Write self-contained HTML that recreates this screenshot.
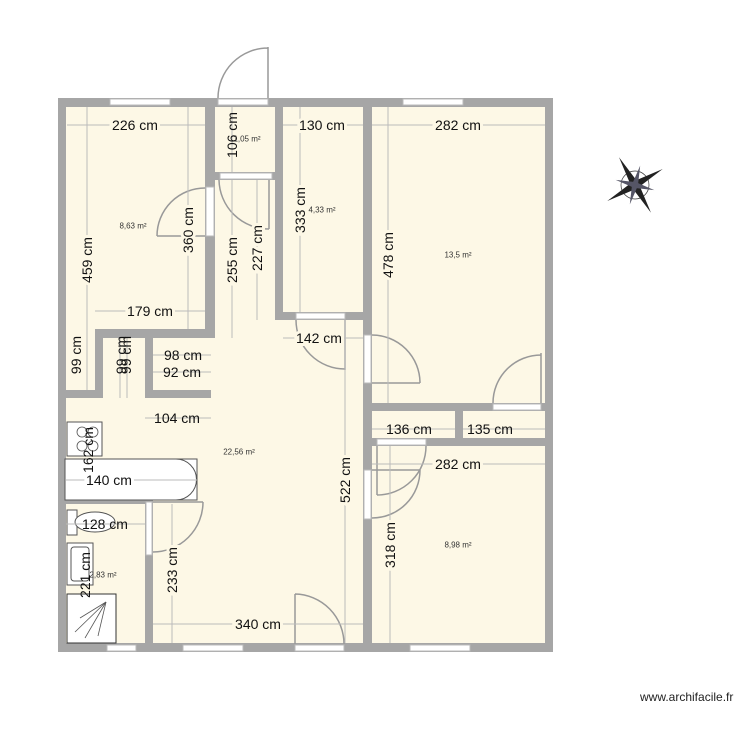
<!DOCTYPE html>
<html><head><meta charset="utf-8"><style>
html,body{margin:0;padding:0;background:#fff;}
svg{display:block;font-family:"Liberation Sans",sans-serif;}
.d{font-size:14px;fill:#111;}
.a{font-size:8px;fill:#333;}
.dl{stroke:#bbb;stroke-width:1;fill:none;}
.door{stroke:#999;stroke-width:1.5;fill:none;}
</style></head><body>
<svg width="750" height="750" viewBox="0 0 750 750">
<!-- floors -->
<rect x="58" y="98" width="495" height="554" fill="#fdf8e6"/>
<!-- walls -->
<g fill="#a6a6a6">
<rect x="58" y="98" width="495" height="9"/>
<rect x="58" y="643" width="495" height="9"/>
<rect x="58" y="98" width="8" height="554"/>
<rect x="545" y="98" width="8" height="554"/>
<rect x="205" y="98" width="10" height="240"/>
<rect x="275" y="98" width="8" height="222"/>
<rect x="205" y="172" width="78" height="8"/>
<rect x="275" y="312" width="97" height="8"/>
<rect x="363" y="98" width="9" height="554"/>
<rect x="95" y="329" width="120" height="9"/>
<rect x="95" y="329" width="8" height="69"/>
<rect x="145" y="338" width="8" height="60"/>
<rect x="58" y="390" width="45" height="8"/>
<rect x="145" y="390" width="66" height="8"/>
<rect x="363" y="403" width="190" height="8"/>
<rect x="363" y="438" width="190" height="8"/>
<rect x="455" y="403" width="8" height="43"/>
<rect x="145" y="502" width="8" height="150"/>
<rect x="58" y="498" width="95" height="6"/>
</g>
<!-- windows / openings -->
<g fill="#fff" stroke="#bbb" stroke-width="1">
<rect x="110" y="99" width="60" height="6"/>
<rect x="403" y="99" width="60" height="6"/>
<rect x="218" y="99" width="50" height="6"/>
<rect x="410" y="645" width="60" height="6"/>
<rect x="183" y="645" width="60" height="6"/>
<rect x="107" y="645" width="29" height="6"/>
<rect x="295" y="645" width="49" height="6"/>
<rect x="220" y="173" width="52" height="6"/>
<rect x="206" y="187" width="8" height="49"/>
<rect x="296" y="313" width="49" height="6"/>
<rect x="364" y="335" width="7" height="48"/>
<rect x="493" y="404" width="48" height="6"/>
<rect x="377" y="439" width="49" height="6"/>
<rect x="364" y="470" width="7" height="49"/>
<rect x="146" y="502" width="6" height="53"/>
</g>
<!-- doors -->
<g class="door">
<path d="M268 98 V47 M218 98 A50 50 0 0 1 268 48"/>
<path d="M269 180 V229 M219 180 A50 50 0 0 0 269 229"/>
<path d="M157 236 H205 M157 236 A48 48 0 0 1 205 188"/>
<path d="M345 320 V370 M296 320 A49 49 0 0 0 345 369"/>
<path d="M372 383 H420 M372 335 A48 48 0 0 1 420 383"/>
<path d="M541 403 V353 M493 403 A48 48 0 0 1 541 355"/>
<path d="M377 446 V495 M426 446 A49 49 0 0 1 377 495"/>
<path d="M372 470 H420 M420 470 A48 48 0 0 1 372 518"/>
<path d="M153 502 H203 M203 502 A50 50 0 0 1 153 552"/>
<path d="M295 644 V594 M295 594 A50 50 0 0 1 344 644"/>
</g>
<!-- fixtures -->
<rect x="65" y="459" width="132" height="41" rx="0" fill="#fff" stroke="#555"/>
<path d="M176 459 A20.5 20.5 0 0 1 176 500" fill="#fff" stroke="#555"/>
<rect x="175" y="460" width="4" height="39" fill="#fff"/>
<rect x="67" y="422" width="35" height="34" fill="#fff" stroke="#555"/>
<g fill="none" stroke="#555" stroke-width="0.8"><circle cx="82" cy="432" r="5"/><circle cx="93" cy="432" r="5"/><circle cx="82" cy="446" r="5"/><circle cx="93" cy="446" r="5"/></g>
<rect x="67" y="510" width="10" height="25" fill="#fff" stroke="#555"/>
<ellipse cx="95" cy="522" rx="20" ry="10" fill="#fff" stroke="#555"/>
<rect x="67" y="543" width="26" height="42" fill="#fff" stroke="#555"/>
<rect x="71" y="547" width="18" height="34" rx="3" fill="none" stroke="#555"/>
<rect x="67" y="594" width="49" height="49" fill="#fff" stroke="#333"/>
<g stroke="#555" stroke-width="0.8"><line x1="106" y1="602" x2="75" y2="632"/><line x1="106" y1="602" x2="85" y2="638"/><line x1="106" y1="602" x2="80" y2="618"/><line x1="106" y1="602" x2="98" y2="636"/></g>
<!-- dimension lines -->
<g class="dl">
<line x1="67" y1="125" x2="205" y2="125"/>
<line x1="283" y1="125" x2="363" y2="125"/>
<line x1="372" y1="125" x2="545" y2="125"/>
<line x1="87" y1="107" x2="87" y2="390"/>
<line x1="188" y1="107" x2="188" y2="329"/>
<line x1="232" y1="107" x2="232" y2="172"/>
<line x1="232" y1="180" x2="232" y2="338"/>
<line x1="257" y1="180" x2="257" y2="320"/>
<line x1="300" y1="107" x2="300" y2="312"/>
<line x1="388" y1="107" x2="388" y2="403"/>
<line x1="95" y1="311" x2="205" y2="311"/>
<line x1="283" y1="338" x2="363" y2="338"/>
<line x1="153" y1="355" x2="211" y2="355"/>
<line x1="153" y1="372" x2="211" y2="372"/>
<line x1="145" y1="418" x2="211" y2="418"/>
<line x1="372" y1="429" x2="455" y2="429"/>
<line x1="463" y1="429" x2="545" y2="429"/>
<line x1="372" y1="464" x2="545" y2="464"/>
<line x1="345" y1="320" x2="345" y2="643"/>
<line x1="66" y1="480" x2="197" y2="480"/>
<line x1="66" y1="524" x2="145" y2="524"/>
<line x1="390" y1="446" x2="390" y2="643"/>
<line x1="172" y1="504" x2="172" y2="643"/>
<line x1="153" y1="624" x2="363" y2="624"/>
<line x1="120" y1="338" x2="120" y2="398"/>
<line x1="127" y1="338" x2="127" y2="398"/>
</g>
<!-- labels -->
<g class="d" text-anchor="middle" dominant-baseline="central">
<text x="135" y="125" style="paint-order:stroke" stroke="#fdf8e6" stroke-width="6">226 cm</text>
<text x="322" y="125" style="paint-order:stroke" stroke="#fdf8e6" stroke-width="6">130 cm</text>
<text x="458" y="125" style="paint-order:stroke" stroke="#fdf8e6" stroke-width="6">282 cm</text>
<text x="150" y="311" style="paint-order:stroke" stroke="#fdf8e6" stroke-width="6">179 cm</text>
<text x="319" y="338" style="paint-order:stroke" stroke="#fdf8e6" stroke-width="6">142 cm</text>
<text x="183" y="355">98 cm</text>
<text x="182" y="372">92 cm</text>
<text x="177" y="418">104 cm</text>
<text x="409" y="429">136 cm</text>
<text x="490" y="429">135 cm</text>
<text x="458" y="464" style="paint-order:stroke" stroke="#fdf8e6" stroke-width="6">282 cm</text>
<text x="109" y="480" style="paint-order:stroke" stroke="#fff" stroke-width="6">140 cm</text>
<text x="105" y="524">128 cm</text>
<text x="258" y="624" style="paint-order:stroke" stroke="#fdf8e6" stroke-width="6">340 cm</text>
<text transform="translate(232,135) rotate(-90)">106 cm</text>
<text transform="translate(87,260) rotate(-90)" style="paint-order:stroke" stroke="#fdf8e6" stroke-width="6">459 cm</text>
<text transform="translate(188,230) rotate(-90)" style="paint-order:stroke" stroke="#fdf8e6" stroke-width="6">360 cm</text>
<text transform="translate(232,260) rotate(-90)" style="paint-order:stroke" stroke="#fdf8e6" stroke-width="6">255 cm</text>
<text transform="translate(257,248) rotate(-90)" style="paint-order:stroke" stroke="#fdf8e6" stroke-width="6">227 cm</text>
<text transform="translate(300,210) rotate(-90)" style="paint-order:stroke" stroke="#fdf8e6" stroke-width="6">333 cm</text>
<text transform="translate(388,255) rotate(-90)" style="paint-order:stroke" stroke="#fdf8e6" stroke-width="6">478 cm</text>
<text transform="translate(76,355) rotate(-90)">99 cm</text>
<text transform="translate(121,355) rotate(-90)">99 cm</text>
<text transform="translate(126,355) rotate(-90)">99 cm</text>
<text transform="translate(88,450) rotate(-90)">162 cm</text>
<text transform="translate(345,480) rotate(-90)" style="paint-order:stroke" stroke="#fdf8e6" stroke-width="6">522 cm</text>
<text transform="translate(390,545) rotate(-90)" style="paint-order:stroke" stroke="#fdf8e6" stroke-width="6">318 cm</text>
<text transform="translate(172,570) rotate(-90)" style="paint-order:stroke" stroke="#fdf8e6" stroke-width="6">233 cm</text>
<text transform="translate(85,575) rotate(-90)">221 cm</text>
</g>
<g class="a" text-anchor="middle" dominant-baseline="central">
<text x="247" y="139">1,05 m²</text>
<text x="133" y="226">8,63 m²</text>
<text x="322" y="210">4,33 m²</text>
<text x="458" y="255">13,5 m²</text>
<text x="239" y="452">22,56 m²</text>
<text x="458" y="545">8,98 m²</text>
<text x="103" y="575">2,83 m²</text>
</g>
<!-- compass -->
<g transform="translate(635,185)">
<circle r="14" fill="none" stroke="#333" stroke-width="0.7"/>
<g transform="rotate(-30)" fill="#222">
<polygon points="0,-32 4,0 0,32 -4,0"/>
<polygon points="-32,0 0,-4 32,0 0,4"/>
</g>
<g transform="rotate(15)" fill="#556">
<polygon points="0,-20 3,0 0,20 -3,0"/>
<polygon points="-20,0 0,-3 20,0 0,3"/>
</g>
</g>
<text x="640" y="697" font-size="12" fill="#222" dominant-baseline="central">www.archifacile.fr</text>
</svg>
</body></html>
